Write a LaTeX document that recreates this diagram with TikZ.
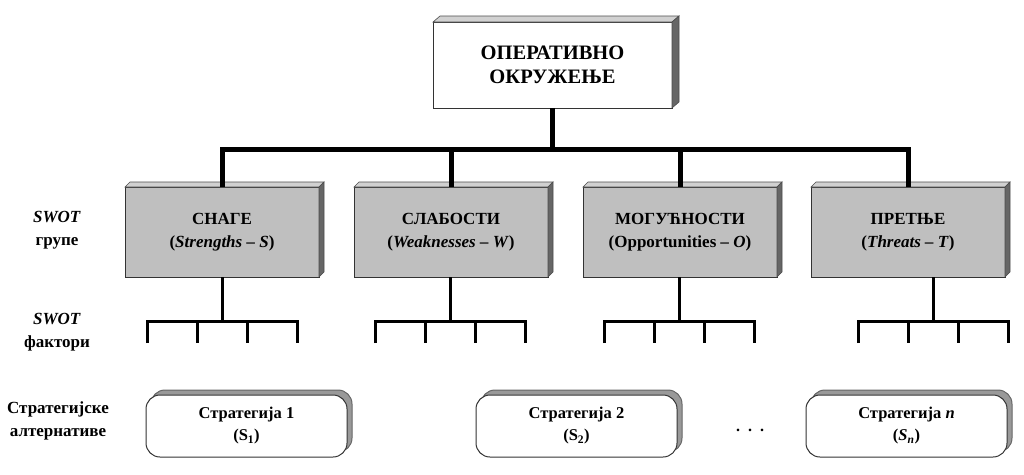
\documentclass[tikz,border=0pt]{standalone}
\usepackage{fontspec}
\setmainfont{Liberation Serif}
\usetikzlibrary{shadows}
\tikzset{
  vrh/.style={draw=black!80, fill=white, line width=1pt, minimum width=239pt, minimum height=86pt,
    inner sep=0pt, outer sep=0pt, align=center, font=\fontsize{20.5}{24}\selectfont\bfseries},
  grupa/.style={draw=black!80, fill=black!25, line width=1pt, minimum width=194pt, minimum height=90pt,
    inner sep=0pt, outer sep=0pt, align=center, font=\fontsize{17}{23}\selectfont\bfseries},
  alternativa/.style={draw=black!80, fill=white, line width=1pt, rounded corners=14pt,
    minimum width=201pt, minimum height=62pt, inner sep=0pt, align=center,
    font=\fontsize{16.5}{22}\selectfont\bfseries,
    copy shadow={shadow xshift=5pt, shadow yshift=5pt, fill=black!40, draw=black!60}},
  oznaka/.style={align=center, font=\fontsize{17}{23}\selectfont\bfseries},
  gornja/.style={fill=black!18, draw=black!70, line width=0.6pt},
  bocna/.style={fill=black!60, draw=black!70, line width=0.6pt},
  magistrala/.style={line width=5pt},
  faktor/.style={line width=3pt}
}
\begin{document}
\begin{tikzpicture}[x=1pt,y=-1pt]
\useasboundingbox (0,0) rectangle (1024,474);

% top box
\node[vrh] (okruzenje) at (552.5,65) {ОПЕРАТИВНО\\ОКРУЖЕЊЕ};
\fill[gornja] (okruzenje.north west) -- ++(7,-6) -- ([shift={(7,-6)}]okruzenje.north east)
  -- (okruzenje.north east) -- cycle;
\fill[bocna] (okruzenje.north east) -- ++(7,-6) -- ([shift={(7,-6)}]okruzenje.south east)
  -- (okruzenje.south east) -- cycle;

% SWOT groups
\node[grupa] (snage) at (222,232) {СНАГЕ\\(\textit{Strengths –  S})};
\node[grupa] (slabosti) at (451,232) {СЛАБОСТИ\\(\textit{Weaknesses –  W})};
\node[grupa] (mogucnosti) at (680,232) {МОГУЋНОСТИ\\(Opportunities \textit{–  O})};
\node[grupa] (pretnje) at (908,232) {ПРЕТЊЕ\\(\textit{Threats –  T})};
\foreach \g in {snage,slabosti,mogucnosti,pretnje}{
  \fill[gornja] (\g.north west) -- ++(5,-5) -- ([shift={(5,-5)}]\g.north east)
    -- (\g.north east) -- cycle;
  \fill[bocna] (\g.north east) -- ++(5,-5) -- ([shift={(5,-5)}]\g.south east)
    -- (\g.south east) -- cycle;
}

% bus
\coordinate (bus) at (552,149);
\draw[magistrala] (okruzenje.south) -- (okruzenje.south |- bus);
\draw[magistrala] (snage.north) -- (snage.north |- bus) -- (pretnje.north |- bus) -- (pretnje.north);
\draw[magistrala] (slabosti.north |- bus) -- (slabosti.north);
\draw[magistrala] (mogucnosti.north |- bus) -- (mogucnosti.north);

% SWOT factors
\coordinate (f1) at (222,321);
\coordinate (f2) at (450,321);
\coordinate (f3) at (679,321);
\coordinate (f4) at (933,321);
\draw[faktor] (f1 |- snage.south) -- (f1);
\draw[faktor] (f2 |- slabosti.south) -- (f2);
\draw[faktor] (f3 |- mogucnosti.south) -- (f3);
\draw[faktor] (f4 |- pretnje.south) -- (f4);
\foreach \f in {f1,f2,f3,f4}{
  \draw[faktor] ([xshift=-75pt]\f) ++(0,22) -- ++(0,-22) -- ++(150,0) -- ++(0,22);
  \draw[faktor] ([xshift=-25pt]\f) -- ++(0,22);
  \draw[faktor] ([xshift=25pt]\f) -- ++(0,22);
}

% strategic alternatives
\node[alternativa] (s1) at (246.5,426) {Стратегија 1\\(S\textsubscript{1})};
\node[alternativa] (s2) at (576.5,426) {Стратегија 2\\(S\textsubscript{2})};
\node (tacke) at (750,430) {\bfseries\fontsize{16}{18}\selectfont .\,\,\,.\,\,\,.};
\node[alternativa] (sn) at (906.5,426) {Стратегија \textit{n}\\(\textit{S}\textsubscript{\textit{n}})};

% row labels
\node[oznaka] (grupe) at (57,230) {\textit{SWOT}\\групе};
\node[oznaka] (faktori) at (57,332) {\textit{SWOT}\\фактори};
\node[oznaka] (alternative) at (58,421) {Стратегијске\\алтернативе};
\end{tikzpicture}
\end{document}
